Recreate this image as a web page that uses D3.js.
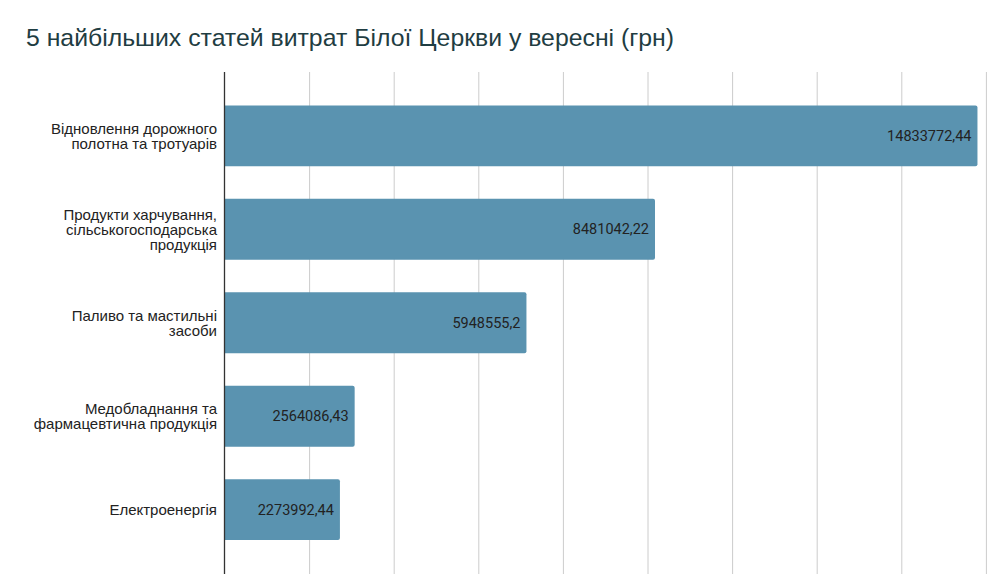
<!DOCTYPE html>
<html>
<head>
<meta charset="utf-8">
<script src="https://cdn.jsdelivr.net/npm/d3@7"></script>
<style>
  html, body { margin: 0; padding: 0; background: #fff; }
  svg { display: block; }
</style>
</head>
<body>
<svg id="chart" width="993" height="574"></svg>
<script>
const title = "5 найбільших статей витрат Білої Церкви у вересні (грн)";
const categories = [
  ["Відновлення дорожного", "полотна та тротуарів"],
  ["Продукти харчування,", "сільськогосподарська", "продукція"],
  ["Паливо та мастильні", "засоби"],
  ["Медобладнання та", "фармацевтична продукція"],
  ["Електроенергія"]
];
const values = [14833772.44, 8481042.22, 5948555.2, 2564086.43, 2273992.44];
const valueLabels = ["14833772,44", "8481042,22", "5948555,2", "2564086,43", "2273992,44"];
const gridValues = [0, 1666666.67, 3333333.33, 5000000, 6666666.67, 8333333.33,
                    10000000, 11666666.67, 13333333.33, 15000000];

const svg = d3.select("#chart");
const plot = { left: 224.5, right: 985.9, top: 72, bottom: 574 };

const x = d3.scaleLinear().domain([0, 15000000]).range([plot.left, plot.right]);
const y = d3.scaleBand().domain(d3.range(categories.length))
  .range([plot.top, 573.5]).paddingInner(0.35).paddingOuter(0.357);

// title
svg.append("text")
  .attr("x", 26).attr("y", 45.5)
  .attr("font-family", "Liberation Sans, Arial, sans-serif")
  .attr("font-size", 24.8)
  .attr("fill", "#1f3d42")
  .text(title);

// gridlines
const xAxis = d3.axisBottom(x).tickValues(gridValues.slice(1))
  .tickSize(-(plot.bottom - plot.top)).tickFormat("");
const g = svg.append("g").attr("transform", `translate(0,${plot.bottom})`).call(xAxis);
g.select(".domain").remove();
g.selectAll(".tick line").attr("stroke", "#cccccc").attr("stroke-width", 1);

// bars (rounded right corners)
const r = 2;
svg.append("g").selectAll("path").data(values).join("path")
  .attr("fill", "#5a93b0")
  .attr("d", (d, i) => {
    const x0 = x(0), x1 = x(d), y0 = y(i), h = y.bandwidth();
    return `M${x0},${y0} H${x1 - r} Q${x1},${y0} ${x1},${y0 + r} V${y0 + h - r} Q${x1},${y0 + h} ${x1 - r},${y0 + h} H${x0} Z`;
  });

// value labels
svg.append("g").selectAll("text").data(values).join("text")
  .attr("x", d => x(d) - 6)
  .attr("y", (d, i) => y(i) + y.bandwidth() / 2)
  .attr("dy", "0.35em")
  .attr("text-anchor", "end")
  .attr("font-family", "Roboto, sans-serif")
  .attr("font-size", 14.5)
  .attr("fill", "#222222")
  .text((d, i) => valueLabels[i]);

// axis line (baseline)
svg.append("line")
  .attr("x1", x(0)).attr("x2", x(0))
  .attr("y1", plot.top).attr("y2", plot.bottom)
  .attr("stroke", "#333333").attr("stroke-width", 1.3);

// category labels
const lineH = 15;
const cat = svg.append("g").selectAll("text").data(categories).join("text")
  .attr("text-anchor", "end")
  .attr("font-family", "Liberation Sans, Arial, sans-serif")
  .attr("font-size", 15)
  .attr("fill", "#222222");
cat.each(function(lines, i) {
  const cy = y(i) + y.bandwidth() / 2;
  const start = cy - (lines.length - 1) * lineH / 2;
  d3.select(this).selectAll("tspan").data(lines).join("tspan")
    .attr("x", plot.left - 7.5)
    .attr("y", (d, k) => start + k * lineH)
    .attr("dy", "0.35em")
    .text(d => d);
});
</script>
</body>
</html>
